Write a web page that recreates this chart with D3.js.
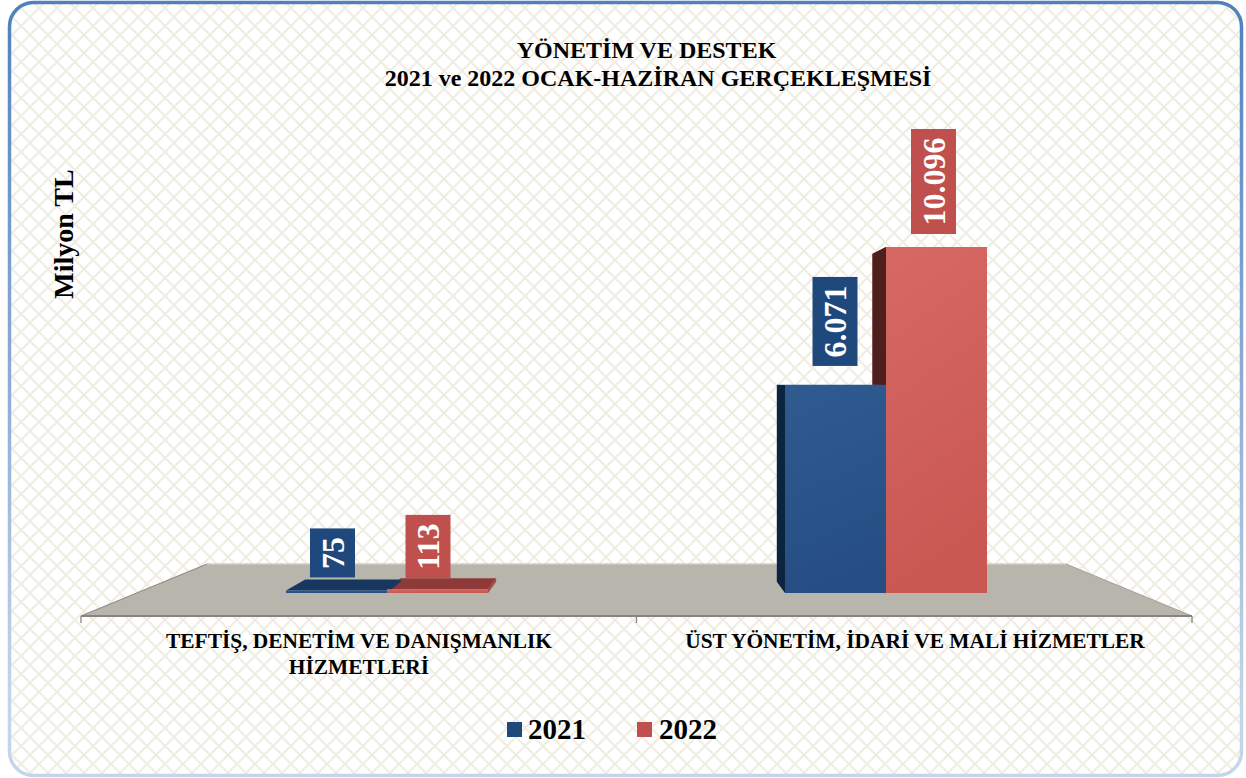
<!DOCTYPE html>
<html lang="tr"><head><meta charset="utf-8">
<script src="https://cdnjs.cloudflare.com/ajax/libs/d3/7.8.5/d3.min.js"></script>
<style>html,body{margin:0;padding:0;background:#fff}svg{display:block}text{font-family:"Liberation Serif",serif;font-weight:bold}</style>
</head><body><svg id="c" width="1246" height="778"></svg>
<script>
const categories = ["TEFTİŞ, DENETİM VE DANIŞMANLIK|HİZMETLERİ", "ÜST YÖNETİM, İDARİ VE MALİ HİZMETLER"];
const series = ["2021", "2022"];
const values2021 = [75, 6071];
const values2022 = [113, 10096];
const labels2021 = ["75", "6.071"];
const labels2022 = ["113", "10.096"];
const titleLines = ["YÖNETİM VE DESTEK", "2021 ve 2022 OCAK-HAZİRAN GERÇEKLEŞMESİ"];
const yAxisTitle = "Milyon TL";
const seriesColors = ["#1f497d", "#c0504d"];

const svg = d3.select("#c");
const defs = svg.append("defs");
const pat = defs.append("pattern").attr("id","lattice").attr("patternUnits","userSpaceOnUse")
  .attr("width",18).attr("height",18).attr("x",12).attr("y",17);
[[0,0,18,18],[0,18,18,0]].forEach(l=>pat.append("line").attr("x1",l[0]).attr("y1",l[1]).attr("x2",l[2]).attr("y2",l[3])
  .attr("stroke","#efede2").attr("stroke-width",2));
function grad(id,x2,y2,stops){const g=defs.append("linearGradient").attr("id",id).attr("x1",0).attr("y1",0).attr("x2",x2).attr("y2",y2);
  stops.forEach(s=>g.append("stop").attr("offset",s[0]).attr("stop-color",s[1]));}
grad("border",0,1,[[0,"#4f81bd"],[0.5,"#8fadd6"],[0.9,"#c4d4e9"],[1,"#c6d6ea"]]);
grad("f0",0.2,1,[[0,"#2f5b90"],[1,"#264e84"]]);
grad("f1",0.2,1,[[0,"#d76863"],[1,"#c95853"]]);

svg.append("rect").attr("x",9.5).attr("y",2.5).attr("width",1232).attr("height",773).attr("rx",24)
  .attr("fill","#fff").attr("stroke","none");
svg.append("rect").attr("x",9.5).attr("y",2.5).attr("width",1232).attr("height",773).attr("rx",24)
  .attr("fill","url(#lattice)").attr("stroke","url(#border)").attr("stroke-width",3.5);

// scales
const floorFront = 616, floorBack = 564, floorL = 81, floorR = 1192, backL = 207, backR = 1066;
const baseY = 593;
const x1 = d3.scaleBand().domain(series).range([0,202]);
const y = d3.scaleLinear().domain([0,10096]).range([baseY,247]);
const vx = 636, vy = 380, kx = 0.055, ky = 0.0525;
const back = (px,py)=>[px+(vx-px)*kx, py+(vy-py)*ky];
const poly = pts=>pts.map(p=>p.join(",")).join(" ");

// floor
svg.append("polygon").attr("points",poly([[floorL,floorFront],[backL,floorBack],[backR,floorBack],[floorR,floorFront]]))
  .attr("fill","#b8b5ad");
svg.append("path").attr("d",`M${floorL},${floorFront}L${backL},${floorBack}`).attr("stroke","#8f8d87").attr("stroke-width",1.2).attr("fill","none");
svg.append("path").attr("d",`M${floorR},${floorFront}L${backR},${floorBack}`).attr("stroke","#a3a19b").attr("stroke-width",1).attr("fill","none");
svg.append("line").attr("x1",backL).attr("x2",backR).attr("y1",floorBack).attr("y2",floorBack).attr("stroke","#cfcdc7").attr("stroke-width",1.5);
svg.append("line").attr("x1",floorL).attr("x2",floorR).attr("y1",floorFront).attr("y2",floorFront).attr("stroke","#85847f").attr("stroke-width",2);
// axis ticks
const tickPos=[floorL,(floorL+floorR)/2,floorR];
svg.selectAll(".tick").data(tickPos).join("line").attr("x1",d=>d).attr("x2",d=>d).attr("y1",floorFront).attr("y2",623).attr("stroke","#85847f").attr("stroke-width",1.3);

// bars
const sideColors=["#0d2440","#4f1f1d"], topColors=["#17375e","#8e3a38"];
const labelOffsets=[[{dx:-4,gap:13},{dx:-9.5,gap:11}],[{dx:-0.5,gap:19},{dx:-3,gap:13}]];
const allValues=[values2021,values2022], allLabels=[labels2021,labels2022];
const barX=(c,s)=>{ const start = c===0 ? 286 : 785; return start + x1(series[s]); };
categories.forEach((_,c)=>{
  [1,0].forEach(s=>{
    const v=allValues[s][c], L=barX(c,s), R=L+x1.bandwidth(), T=y(v), B=y(0);
    const g=svg.append("g");
    if(c===1){ g.append("polygon").attr("points",poly([[L,T],back(L,T),back(L,B),[L,B]])).attr("fill",sideColors[s]); }
    else { g.append("polygon").attr("points",poly([[R,T],back(R,T),back(R,B),[R,B]])).attr("fill",s?"#a84643":"#17375e"); }
    g.append("polygon").attr("points",poly([[L,T],back(L,T),back(R,T),[R,T]])).attr("fill",c===1?(s?"#4f1f1d":"#4a76aa"):topColors[s]);
  });
  series.forEach((_,s)=>{
    const v=allValues[s][c], L=barX(c,s), T=y(v);
    svg.append("rect").attr("x",L).attr("y",T).attr("width",x1.bandwidth()).attr("height",y(0)-T).attr("fill",`url(#f${s})`);
  });
});

// data labels
categories.forEach((_,c)=>series.forEach((_,s)=>{
  const v=allValues[s][c], L=barX(c,s), T=y(v), o=labelOffsets[c][s];
  const cx=L+x1.bandwidth()/2+o.dx, bottom=T-o.gap;
  const t=svg.append("text").attr("text-anchor","middle").attr("fill","#fff").attr("font-size",32)
    .attr("transform",`translate(${cx+11},0) rotate(-90)`).text(allLabels[s][c]);
  const h=t.node().getComputedTextLength()+17;
  t.attr("x",-(bottom-h/2)).attr("y",0);
  svg.insert("rect",()=>t.node()).attr("x",cx-22.5).attr("y",bottom-h).attr("width",45).attr("height",h).attr("fill",seriesColors[s]);
}));

// title
svg.selectAll(".title").data(titleLines).join("text").attr("x",(d,i)=>[646.5,658][i]).attr("y",(d,i)=>[58,86][i])
  .attr("text-anchor","middle").attr("font-size",24).attr("fill","#000").text(d=>d);
// y title
svg.append("text").attr("transform","translate(73,234) rotate(-90)").attr("text-anchor","middle").attr("font-size",28).attr("fill","#000").text(yAxisTitle);
// categories
const catX=[359,915];
categories.forEach((c,i)=>c.split("|").forEach((ln,j)=>{
  svg.append("text").attr("x",catX[i]).attr("y",648+j*26).attr("text-anchor","middle").attr("font-size",21.4).attr("fill","#000").text(ln);
}));
// legend
const legX=[507,637], legTextX=[528,659];
series.forEach((s,i)=>{
  svg.append("rect").attr("x",legX[i]).attr("y",722).attr("width",15).attr("height",15).attr("fill",seriesColors[i]);
  svg.append("text").attr("x",legTextX[i]).attr("y",739).attr("font-size",29).attr("fill","#000").text(s);
});
</script></body></html>
